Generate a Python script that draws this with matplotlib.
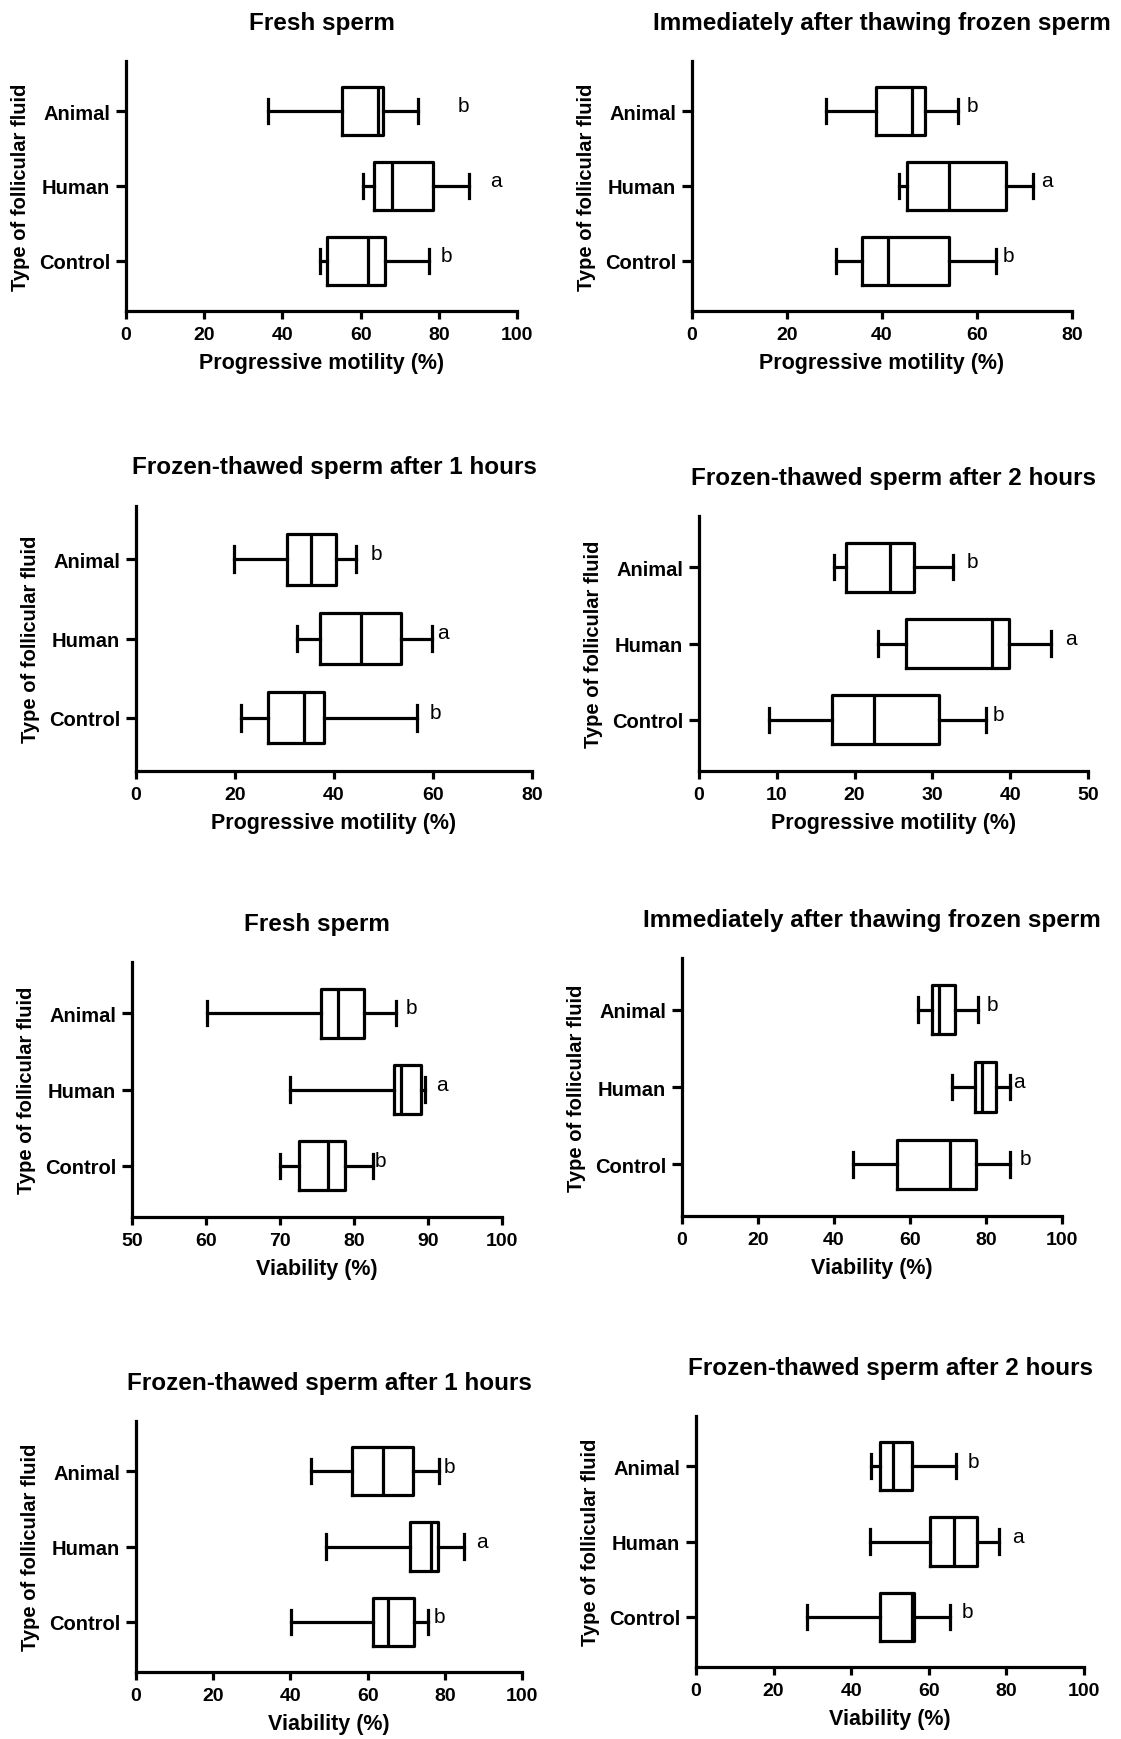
import matplotlib
matplotlib.use("Agg")
import matplotlib.pyplot as plt

plt.rcParams['font.family'] = ['Liberation Sans', 'DejaVu Sans']

W, H = 1121, 1740

groups = ["Animal", "Human", "Control"]
group_pos = [2, 1, 0]
letters = ["b", "a", "b"]

titles = ["Fresh sperm",
          "Immediately after thawing frozen sperm",
          "Frozen-thawed sperm after 1 hours",
          "Frozen-thawed sperm after 2 hours",
          "Fresh sperm",
          "Immediately after thawing frozen sperm",
          "Frozen-thawed sperm after 1 hours",
          "Frozen-thawed sperm after 2 hours"]
xlabels = ["Progressive motility (%)"] * 4 + ["Viability (%)"] * 4
xranges = [(0, 100, 20), (0, 80, 20), (0, 80, 20), (0, 50, 10),
           (50, 100, 10), (0, 100, 20), (0, 100, 20), (0, 100, 20)]

# min, q1, median, q3, max  for Animal, Human, Control
motility_fresh = [[36.3, 55.2, 64.5, 65.8, 74.7],
                  [60.5, 63.4, 68.0, 78.4, 87.6],
                  [49.6, 51.3, 61.8, 66.2, 77.4]]
motility_thaw = [[28.2, 38.7, 46.4, 49.0, 56.0],
                 [43.6, 45.3, 54.2, 66.1, 71.7],
                 [30.3, 35.7, 41.2, 54.2, 63.9]]
motility_1h = [[19.8, 30.6, 35.3, 40.5, 44.5],
               [32.6, 37.1, 45.5, 53.5, 59.7],
               [21.3, 26.7, 33.9, 38.0, 56.8]]
motility_2h = [[17.4, 18.9, 24.6, 27.6, 32.7],
               [23.0, 26.6, 37.6, 39.9, 45.3],
               [9.0, 17.1, 22.5, 30.8, 36.9]]
viability_fresh = [[60.1, 75.5, 77.8, 81.4, 85.7],
                   [71.3, 85.4, 86.3, 89.1, 89.6],
                   [70.0, 72.5, 76.5, 78.8, 82.5]]
viability_thaw = [[62.0, 65.7, 67.6, 71.8, 77.9],
                  [71.0, 77.1, 79.0, 82.6, 86.4],
                  [45.0, 56.7, 70.4, 77.4, 86.4]]
viability_1h = [[45.4, 56.0, 64.1, 71.7, 78.6],
                [49.1, 71.0, 76.3, 78.3, 84.9],
                [40.1, 61.3, 65.3, 72.0, 75.7]]
viability_2h = [[45.2, 47.3, 50.8, 55.6, 67.1],
                [44.8, 60.4, 66.6, 72.4, 78.2],
                [28.6, 47.5, 55.6, 56.3, 65.5]]

# x position of the significance letters (Animal, Human, Control)
letter_x = [[86.4, 94.6, 81.9],
            [59.0, 74.8, 66.7],
            [48.6, 62.0, 60.4],
            [35.2, 47.8, 38.5],
            [87.7, 91.9, 83.6],
            [81.7, 88.7, 90.3],
            [81.2, 89.5, 78.6],
            [71.5, 82.9, 69.9]]

panels = [motility_fresh, motility_thaw, motility_1h, motility_2h,
          viability_fresh, viability_thaw, viability_1h, viability_2h]

# axes boxes in pixels: left, right, top, bottom
boxes_px = [(126, 517, 62, 312), (692, 1072, 62, 312),
            (136, 532, 507, 772), (699, 1088, 517, 772),
            (132, 502, 963, 1218), (682, 1062, 959, 1217),
            (136, 522, 1422, 1673), (696, 1084, 1417, 1668)]
title_pads = [23, 23, 24, 23, 23, 23, 23, 30]

fig = plt.figure(figsize=(W / 100, H / 100), dpi=100)
LW = 2.3

for i, data in enumerate(panels):
    l, r, t, b = boxes_px[i]
    ax = fig.add_axes([l / W, 1 - b / H, (r - l) / W, (b - t) / H])
    stats = []
    for name, five in zip(groups, data):
        stats.append(dict(label=name, whislo=five[0], q1=five[1], med=five[2],
                          q3=five[3], whishi=five[4], fliers=[]))
    line = dict(color="black", linewidth=LW)
    ax.bxp(stats, positions=group_pos, widths=0.64, capwidths=0.32,
           orientation="horizontal", showfliers=False,
           boxprops=line, whiskerprops=line, capprops=line,
           medianprops=line)
    for y, lt, lx in zip(group_pos, letters, letter_x[i]):
        ax.text(lx, y + 0.07, lt, fontsize=15, ha="center", va="center")

    x0, x1, step = xranges[i]
    ax.set_xlim(x0, x1)
    ax.set_xticks(list(range(x0, x1 + 1, step)))
    ax.set_ylim(-0.67, 2.67)
    ax.set_yticks(group_pos)
    ax.set_yticklabels(groups)
    for s in ["top", "right"]:
        ax.spines[s].set_visible(False)
    for s in ["left", "bottom"]:
        ax.spines[s].set_linewidth(LW)
    ax.tick_params(axis="y", length=7.5, width=LW, pad=4, labelsize=14.5)
    ax.tick_params(axis="x", length=5.5, width=LW, pad=5, labelsize=14)
    for lab in ax.get_xticklabels() + ax.get_yticklabels():
        lab.set_fontweight("bold")
    ax.set_xlabel(xlabels[i], fontsize=15.5, fontweight="bold", labelpad=7)
    ax.set_ylabel("Type of follicular fluid", fontsize=14.5,
                  fontweight="bold")
    ax.yaxis.set_label_coords(-96 / (r - l), 0.5)
    ax.set_title(titles[i], fontsize=17.5, fontweight="bold",
                 pad=title_pads[i])

fig.savefig("out.png", dpi=100)
